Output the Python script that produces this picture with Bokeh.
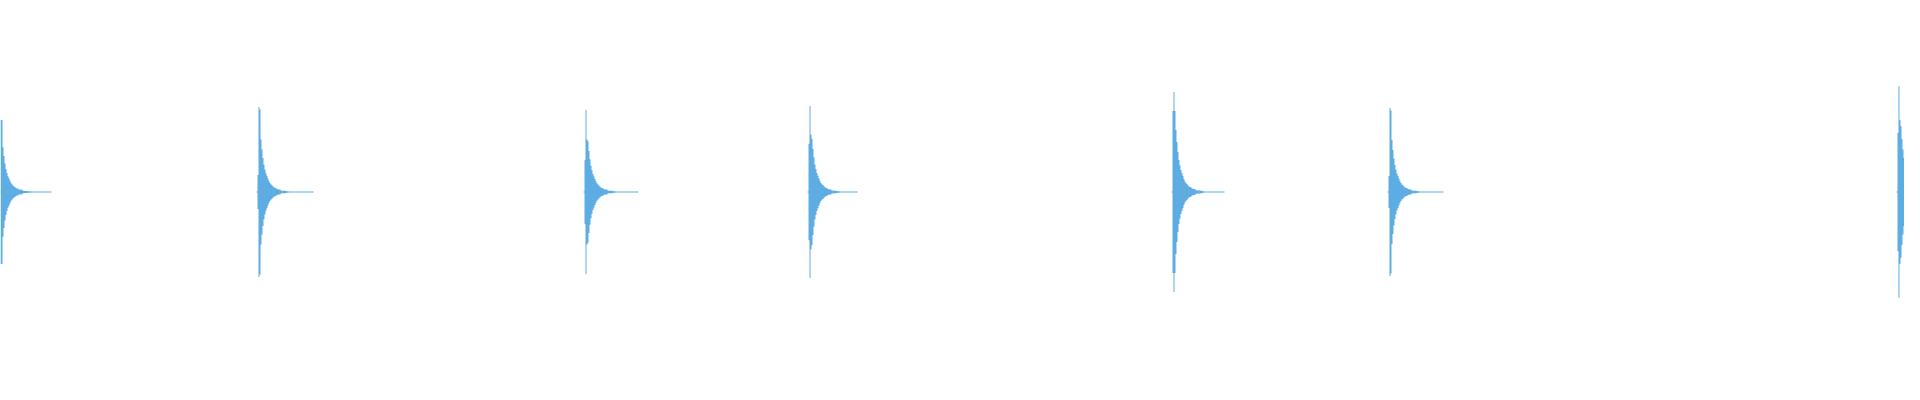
from bokeh.plotting import figure
from bokeh.models import Range1d, ColumnDataSource
from bokeh.embed import file_html
from bokeh.resources import INLINE

# Waveform overview: one bin per column, amplitude normalised to full scale
hit_bins = [8, 266, 593, 817, 1181, 1397, 1906]          # onset bin of each hit
hit_peaks = [0.36, 0.425, 0.41, 0.43, 0.50, 0.42, 0.53]  # peak amplitude
hit_pre = [0.0, 0.20, 0.39, 0.56, 0.81, 0.19, 0.56]      # bin before peak (fraction of peak)
hit_post = [1.0, 0.97, 0.64, 0.67, 0.81, 0.97, 0.68]     # bin after peak (fraction of peak)
hit_tail = [50, 54, 52, 47, 50, 53, 54]                  # length of ring-out in bins
decay = [0.62, 0.50, 0.40, 0.32, 0.265, 0.22, 0.19, 0.16, 0.13, 0.106,
         0.09, 0.08, 0.068, 0.055, 0.05, 0.047, 0.035, 0.033, 0.03, 0.03,
         0.018, 0.016, 0.014, 0.014, 0.014, 0.012, 0.01, 0.01]  # envelope after the attack
noise_floor = 0.0026

xs, ys = [], []
for b, pk, pre, post, tail in zip(hit_bins, hit_peaks, hit_pre, hit_post, hit_tail):
    cols = []
    for k in range(-2, tail + 1):
        if k == -2:
            a = noise_floor
        elif k == -1:
            a = pk * pre
        elif k == 0:
            a = pk
        elif k == 1:
            a = pk * post
        elif k - 2 < len(decay):
            a = pk * decay[k - 2]
        else:
            a = noise_floor
        cols.append((b + k, max(a, noise_floor)))
    # step outline: upper edge left->right, lower edge right->left
    ux, uy = [], []
    for x0, a in cols:
        ux += [x0, x0 + 1]
        uy += [a, a]
    lx = ux[::-1]
    ly = [-v for v in uy[::-1]]
    xs.append(ux + lx)
    ys.append(uy + ly)

src = ColumnDataSource(dict(xs=xs, ys=ys))

p = figure(width=1904, height=384, output_backend="svg", toolbar_location=None,
           x_range=Range1d(8, 1912), y_range=Range1d(-0.9625, 0.9575),
           min_border=0, min_border_left=0, min_border_right=0,
           min_border_top=0, min_border_bottom=0)
p.patches(xs="xs", ys="ys", source=src, fill_color="#5DADE2", line_color=None)
p.axis.visible = False
p.grid.visible = False
p.outline_line_color = None
p.background_fill_color = "white"
p.border_fill_color = "white"

open("out.html", "w").write(file_html(p, INLINE))
